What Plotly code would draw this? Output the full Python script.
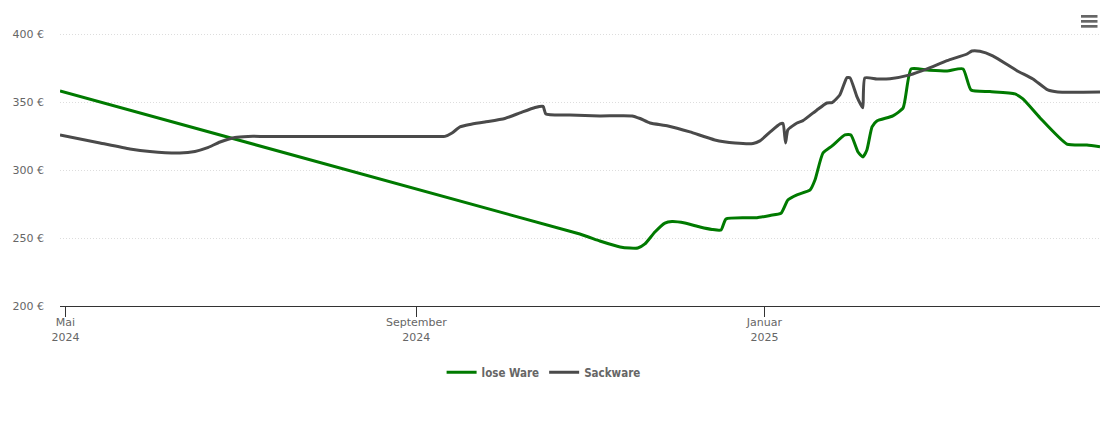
import pandas as pd
import plotly.express as px

lose_days = [-1.9, 180.3, 187.3, 194.4, 197.9, 200.6, 203.1, 206.6, 210.1, 212.6, 217.1, 222.4, 226.6, 229.8, 231.5,
             238.2, 242.4, 247, 250.8, 253.2, 256.4, 261, 262.7, 265.5, 268.7, 273.2, 275.3, 277.8, 279.5, 280.9,
             282.7, 284.4, 290, 293.6, 296.4, 302, 309, 314.6, 317.4, 324, 332.8, 335.6, 341.6, 351, 358, 362.6]
lose_price = [358.4, 253, 247.9, 243.5, 242.7, 242.7, 245.7, 254.5, 261.1, 262.2, 261.1, 258.2, 256.4, 256, 264.1,
              265, 265, 266.7, 268.3, 278.1, 281.8, 285.5, 292.8, 312.7, 317.9, 326, 326, 313.4, 309.8, 314.9,
              331.9, 336.3, 340, 345.9, 374.6, 373.8, 373.1, 374.6, 359.1, 357.9, 356.2, 352.5, 338.5, 319.3, 318.6, 317.3]

sack_days = [-1.9, 12.1, 22.6, 29.6, 40.1, 45.4, 49.6, 54.2, 59.4, 64, 70, 100, 128, 133, 135.5, 138.3, 141.8, 147, 154, 159.3,
             164.6, 167.4, 168.4, 176.8, 187.3, 198.6, 201.4, 204.9, 211.2, 218.9, 227.6, 234.7, 241, 243.4, 247,
             250.5, 251.5, 252.4, 253.2, 256.4, 258.5, 263.4, 266.9, 268.7, 271.4, 273.9, 275, 277.4, 279.2, 279.5,
             280.2, 284.4, 289, 296, 302, 309, 316, 317.7, 320.5, 325, 333.5, 339.1, 344.3, 347.8, 362.6]
sack_price = [326, 320.1, 315.7, 313.8, 312.7, 313.8, 316.4, 320.8, 324.1, 324.9, 324.9, 324.9, 324.9, 324.9, 327.4, 331.9, 333.7, 335.5, 338.1, 342.2,
              346.2, 347, 341.4, 340.7, 340, 340, 338.1, 334.8, 332.6, 328.2, 322.3, 320.1, 319.7, 321.6, 328.2,
              334.1, 334.4, 320.1, 329.7, 334.8, 336.5, 344.4, 349.5, 349.8, 355.4, 368.2, 368, 354.2, 346.8, 346.1,
              368, 367.2, 367.4, 370.2, 374.6, 380.7, 385.6, 387.8, 387.6, 384.2, 373.3, 367.2, 359.1, 357.6, 357.6]

tick_dates = ["2024-05-01", "2024-09-01", "2025-01-01"]
tick_labels = ["Mai<br>2024", "September<br>2024", "Januar<br>2025"]
price_ticks = [200, 250, 300, 350, 400]
price_labels = ["200 €", "250 €", "300 €", "350 €", "400 €"]

start = pd.Timestamp("2024-05-01")
df = pd.concat([
    pd.DataFrame({"tag": start + pd.to_timedelta(lose_days, unit="D"), "preis": lose_price, "ware": "lose Ware"}),
    pd.DataFrame({"tag": start + pd.to_timedelta(sack_days, unit="D"), "preis": sack_price, "ware": "Sackware"}),
])

fig = px.line(
    df,
    x="tag",
    y="preis",
    color="ware",
    color_discrete_sequence=["#007a00", "#4a4a4a"],
    template="none",
)
fig.update_traces(line_shape="spline", line_smoothing=0.5, line_width=3)
# the page itself adds 8px at left and top
fig.update_layout(
    width=1102,
    height=415,
    margin=dict(l=52, r=10, t=2, b=117),
    paper_bgcolor="white",
    plot_bgcolor="white",
    font=dict(family="DejaVu Sans", size=11, color="#666666"),
    legend=dict(orientation="h", x=0.465, xanchor="center", y=-0.175, yanchor="top", title_text="",
                font=dict(size=11.5, color="#666666", family="DejaVu Sans Condensed, DejaVu Sans", weight="bold")),
)
fig.update_xaxes(
    title=None,
    range=[start + pd.Timedelta(days=-1.9), start + pd.Timedelta(days=362.6)],
    tickvals=tick_dates,
    ticktext=tick_labels,
    ticks="outside",
    ticklen=10,
    tickcolor="#333333",
    ticklabelstandoff=-4,
    showline=True,
    linecolor="#333333",
    showgrid=False,
    zeroline=False,
)
fig.update_yaxes(
    title=None,
    range=[200, 418],
    tickvals=price_ticks,
    ticktext=price_labels,
    ticklabelstandoff=15,
    gridcolor="#dddddd",
    griddash="1px,2px",
    zeroline=False,
)
# the little menu icon top right
for top in [15, 20, 25]:
    fig.add_shape(type="rect", xref="paper", yref="paper", x0=(1081 - 60) / 1040, x1=(1097.5 - 60) / 1040,
                  y0=(306 - top) / 296, y1=(306 - top - 2.7) / 296, fillcolor="#666666", line_width=0)

fig.write_html("out.html")
